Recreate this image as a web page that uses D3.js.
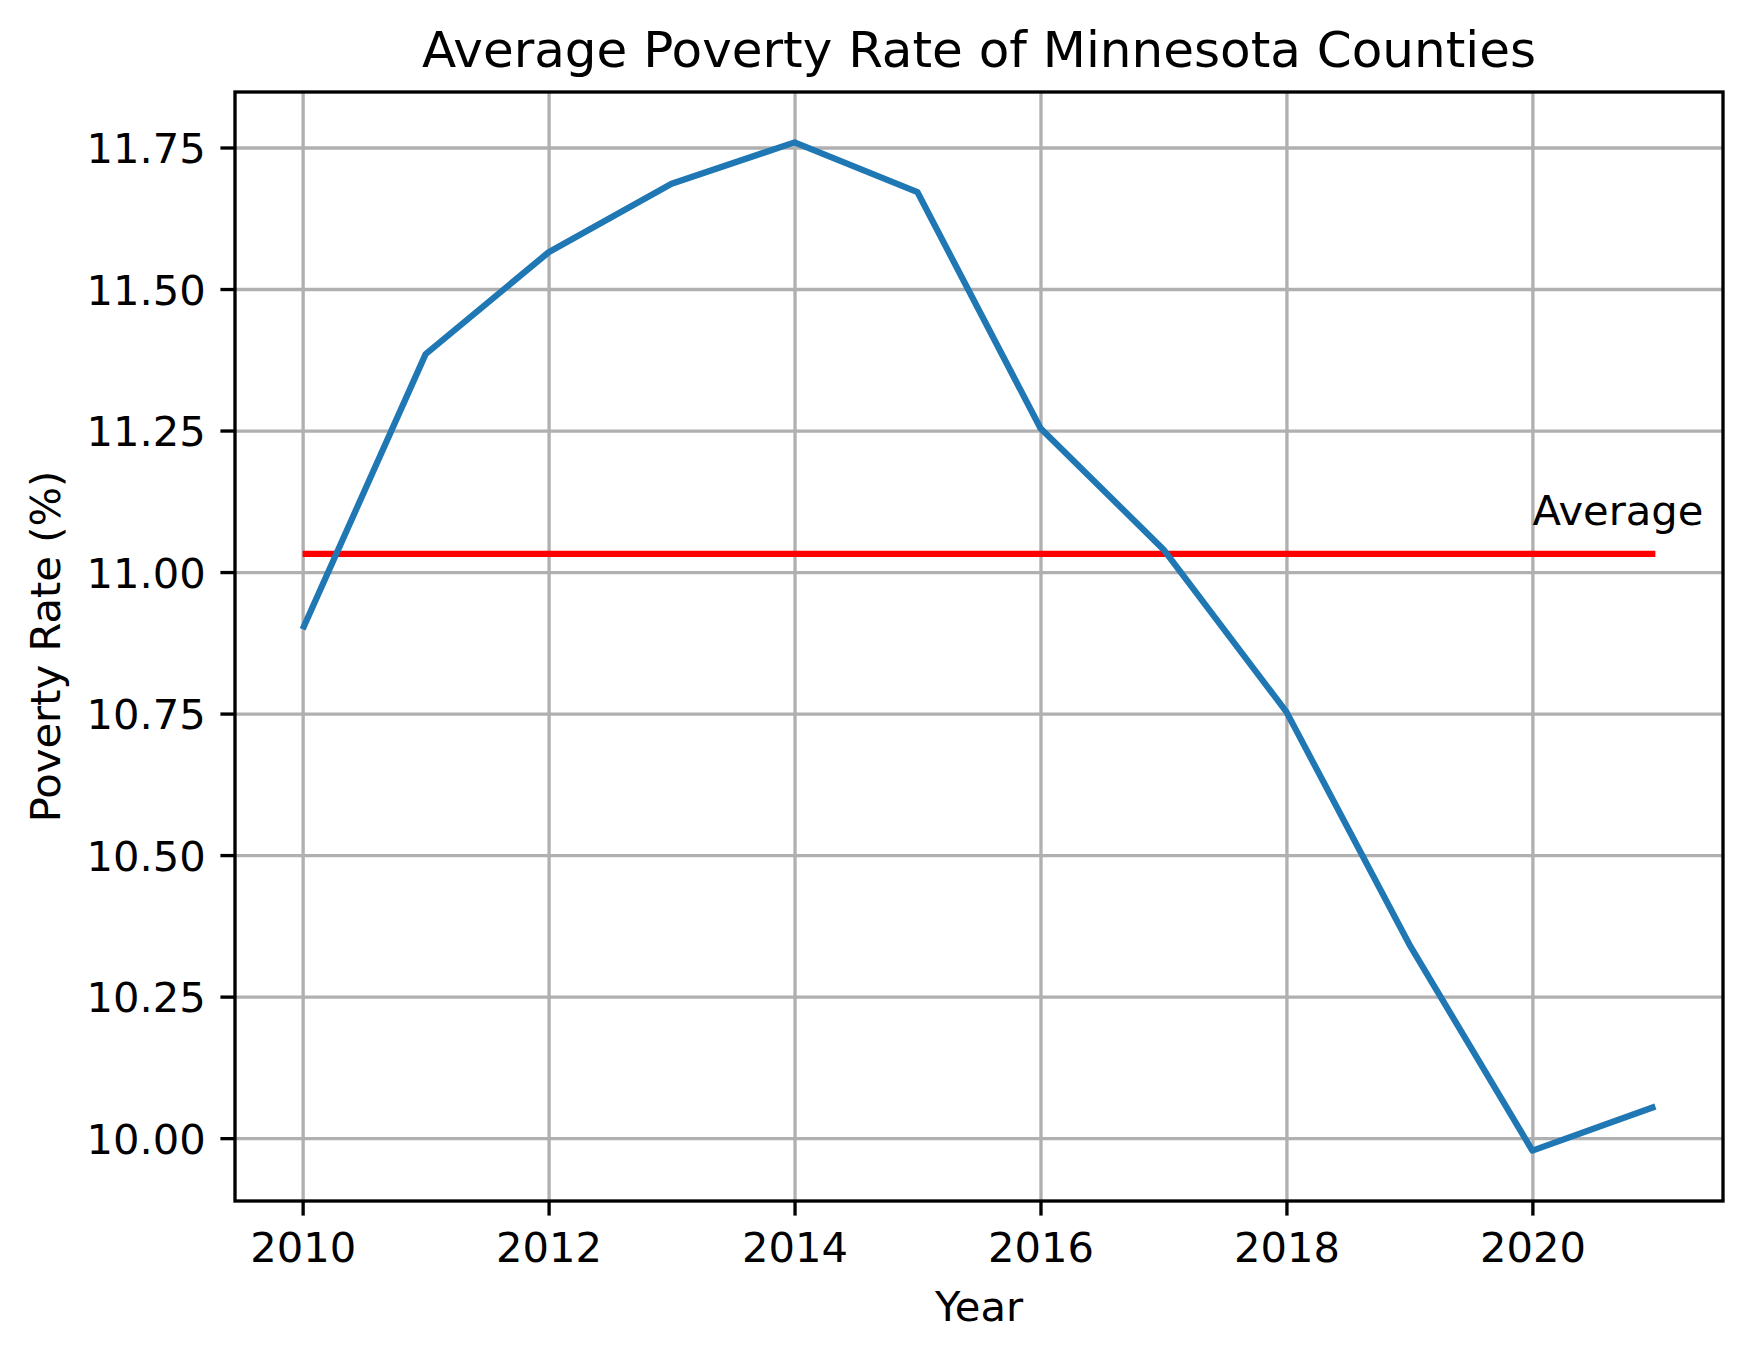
<!DOCTYPE html>
<html>
<head>
<meta charset="utf-8">
<script src="https://cdn.jsdelivr.net/npm/d3@7"></script>
<style>
    body{margin:0;background:#fff;}
    svg text{font-family:"DejaVu Sans",sans-serif;fill:#000;}
</style>
</head>
<body>
<div id="chart"></div>
<script>
// data
const years=[2010,2011,2012,2013,2014,2015,2016,2017,2018,2019,2020,2021];
const povertyRate=[10.899,11.385,11.565,11.686,11.759,11.671,11.254,11.040,10.753,10.342,9.978,10.056];
const xTicks=[2010,2012,2014,2016,2018,2020];
const yTicks=[10.00,10.25,10.50,10.75,11.00,11.25,11.50,11.75];

const format={
    width:1753,
    height:1357,
    margin:{left:235,top:92,right:30,bottom:156}
};
const pt=300/72; //matplotlib points at 300 dpi
const plotW=format.width-format.margin.left-format.margin.right;
const plotH=format.height-format.margin.top-format.margin.bottom;

let svg=d3.select(`#chart`).append(`svg`)
    .attr(`width`,format.width)
    .attr(`height`,format.height);

let graph=svg.append(`g`)
    .attr(`transform`,`translate(${format.margin.left},${format.margin.top})`);

//scales with matplotlib style 5% margins
let xPad=(d3.max(years)-d3.min(years))*0.05;
let x=d3.scaleLinear()
    .domain([d3.min(years)-xPad,d3.max(years)+xPad])
    .range([0,plotW]);
let yMin=d3.min(povertyRate),yMax=d3.max(povertyRate);
let yPad=(yMax-yMin)*0.05;
let y=d3.scaleLinear()
    .domain([yMin-yPad,yMax+yPad])
    .range([plotH,0]);

//grid
graph.append(`g`)
    .attr(`class`,`x grid`)
    .attr(`transform`,`translate(0,${plotH})`)
    .call(d3.axisBottom(x).tickValues(xTicks).tickSize(-plotH).tickFormat(``))
    .call(g=>g.select(`.domain`).remove());
graph.append(`g`)
    .attr(`class`,`y grid`)
    .call(d3.axisLeft(y).tickValues(yTicks).tickSize(-plotW).tickFormat(``))
    .call(g=>g.select(`.domain`).remove());
graph.selectAll(`.grid line`)
    .attr(`stroke`,`#b0b0b0`)
    .attr(`stroke-width`,0.8*pt);

//average line
let average=d3.mean(povertyRate);
graph.append(`line`)
    .attr(`x1`,x(d3.min(years)))
    .attr(`x2`,x(d3.max(years)))
    .attr(`y1`,y(average))
    .attr(`y2`,y(average))
    .attr(`stroke`,`#ff0000`)
    .attr(`stroke-width`,1.5*pt);

graph.append(`text`)
    .attr(`x`,x(2020))
    .attr(`y`,y(average+0.05))
    .attr(`font-size`,10*pt)
    .text(`Average`);

//poverty line
let valueline=d3.line()
    .x((d,i)=>x(years[i]))
    .y(d=>y(d));
graph.append(`path`)
    .datum(povertyRate)
    .attr(`fill`,`none`)
    .attr(`stroke`,`#1f77b4`)
    .attr(`stroke-width`,1.5*pt)
    .attr(`stroke-linejoin`,`round`)
    .attr(`d`,valueline);

//axes
let xAxis=graph.append(`g`)
    .attr(`class`,`x axis`)
    .attr(`transform`,`translate(0,${plotH})`)
    .call(d3.axisBottom(x).tickValues(xTicks).tickSizeInner(3.5*pt).tickSizeOuter(0).tickPadding(3.5*pt).tickFormat(d3.format(`d`)));
xAxis.selectAll(`text`).attr(`dy`,`0.76em`);

let yAxis=graph.append(`g`)
    .attr(`class`,`y axis`)
    .call(d3.axisLeft(y).tickValues(yTicks).tickSizeInner(3.5*pt).tickSizeOuter(0).tickPadding(3.5*pt).tickFormat(d3.format(`.2f`)));
yAxis.selectAll(`text`).attr(`dy`,`0.36em`);

graph.selectAll(`.axis .domain`).remove();
graph.selectAll(`.axis line`)
    .attr(`stroke`,`#000`)
    .attr(`stroke-width`,0.8*pt);
graph.selectAll(`.axis text`)
    .attr(`font-size`,10*pt)
    .attr(`font-family`,`DejaVu Sans`)
    .attr(`fill`,`#000`);

//spines
graph.append(`rect`)
    .attr(`width`,plotW)
    .attr(`height`,plotH)
    .attr(`fill`,`none`)
    .attr(`stroke`,`#000`)
    .attr(`stroke-width`,0.8*pt);

//labels
graph.append(`text`)
    .attr(`x`,plotW/2)
    .attr(`y`,-25)
    .attr(`text-anchor`,`middle`)
    .attr(`font-size`,12*pt)
    .text(`Average Poverty Rate of Minnesota Counties`);

graph.append(`text`)
    .attr(`x`,plotW/2)
    .attr(`y`,plotH+120)
    .attr(`text-anchor`,`middle`)
    .attr(`font-size`,10*pt)
    .text(`Year`);

graph.append(`text`)
    .attr(`transform`,`translate(${60-format.margin.left},${plotH/2}) rotate(-90)`)
    .attr(`text-anchor`,`middle`)
    .attr(`font-size`,10*pt)
    .text(`Poverty Rate (%)`);
</script>
</body>
</html>
